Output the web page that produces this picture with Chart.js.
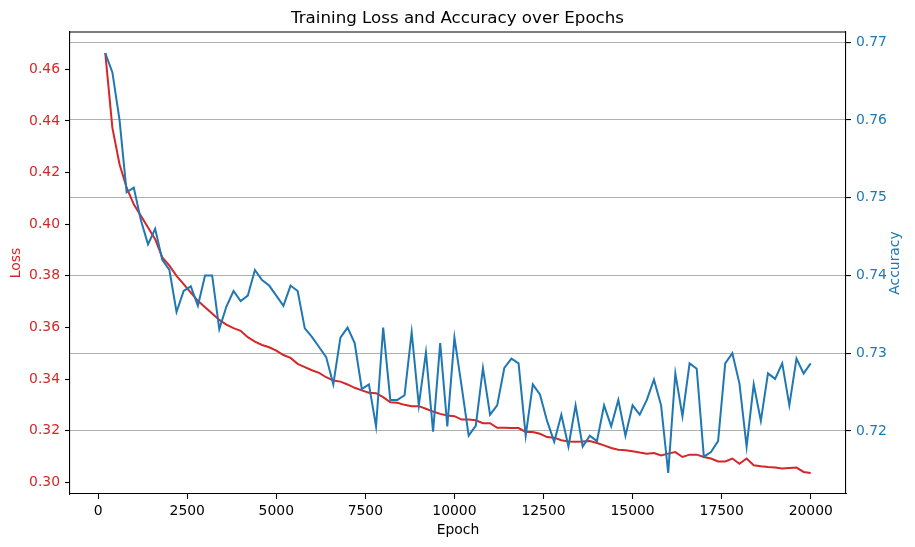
<!DOCTYPE html>
<html>
<head>
<meta charset="utf-8">
<script src="https://cdn.jsdelivr.net/npm/chart.js@4"></script>
<style>
  html, body { margin: 0; padding: 0; background: #fff; }
</style>
</head>
<body>
<canvas id="chart" width="915" height="547"></canvas>
<script>
// epochs on x, loss on the left axis, accuracy on the right axis
const epochs = [
  200, 400, 600, 800, 1000, 1200, 1400, 1600, 1800, 2000,
  2200, 2400, 2600, 2800, 3000, 3200, 3400, 3600, 3800, 4000,
  4200, 4400, 4600, 4800, 5000, 5200, 5400, 5600, 5800, 6000,
  6200, 6400, 6600, 6800, 7000, 7200, 7400, 7600, 7800, 8000,
  8200, 8400, 8600, 8800, 9000, 9200, 9400, 9600, 9800, 10000,
  10200, 10400, 10600, 10800, 11000, 11200, 11400, 11600, 11800, 12000,
  12200, 12400, 12600, 12800, 13000, 13200, 13400, 13600, 13800, 14000,
  14200, 14400, 14600, 14800, 15000, 15200, 15400, 15600, 15800, 16000,
  16200, 16400, 16600, 16800, 17000, 17200, 17400, 17600, 17800, 18000,
  18200, 18400, 18600, 18800, 19000, 19200, 19400, 19600, 19800, 20000
];

const loss = [
  0.4663, 0.4373, 0.4232, 0.4141, 0.4077, 0.4032, 0.3987, 0.3942, 0.3871, 0.3839,
  0.3800, 0.3768, 0.3735, 0.3703, 0.3678, 0.3654, 0.3629, 0.3611, 0.3597, 0.3587,
  0.3562, 0.3545, 0.3532, 0.3523, 0.3510, 0.3493, 0.3482, 0.3459, 0.3446, 0.3434,
  0.3424, 0.3407, 0.3394, 0.3390, 0.3379, 0.3366, 0.3356, 0.3347, 0.3345, 0.3330,
  0.3310, 0.3308, 0.3300, 0.3295, 0.3295, 0.3285, 0.3274, 0.3265, 0.3259, 0.3256,
  0.3243, 0.3243, 0.3240, 0.3229, 0.3229, 0.3211, 0.3211, 0.3210, 0.3210, 0.3195,
  0.3195, 0.3188, 0.3175, 0.3173, 0.3163, 0.3158, 0.3157, 0.3158, 0.3160, 0.3152,
  0.3143, 0.3133, 0.3126, 0.3124, 0.3120, 0.3115, 0.3111, 0.3113, 0.3104, 0.3111,
  0.3117, 0.3098, 0.3107, 0.3107, 0.3098, 0.3092, 0.3081, 0.3081, 0.3092, 0.3072,
  0.3092, 0.3066, 0.3062, 0.3059, 0.3057, 0.3053, 0.3055, 0.3057, 0.3040, 0.3036
];

const accuracy = [
  0.7686, 0.7661, 0.7600, 0.7507, 0.7513, 0.7471, 0.7440, 0.7460, 0.7420, 0.7407,
  0.7353, 0.7380, 0.7386, 0.7361, 0.7400, 0.7400, 0.7331, 0.7360, 0.7380, 0.7367,
  0.7374, 0.7407, 0.7394, 0.7387, 0.7374, 0.7361, 0.7387, 0.7380, 0.7332, 0.7321,
  0.7308, 0.7295, 0.7260, 0.7320, 0.7333, 0.7313, 0.7254, 0.7260, 0.7206, 0.7333,
  0.7240, 0.7240, 0.7246, 0.7327, 0.7233, 0.7301, 0.7199, 0.7313, 0.7206, 0.7320,
  0.7258, 0.7194, 0.7207, 0.7281, 0.7221, 0.7233, 0.7281, 0.7293, 0.7287, 0.7194,
  0.7260, 0.7247, 0.7213, 0.7186, 0.7221, 0.7180, 0.7233, 0.7180, 0.7194, 0.7187,
  0.7233, 0.7206, 0.7240, 0.7194, 0.7233, 0.7221, 0.7240, 0.7266, 0.7233, 0.7146,
  0.7274, 0.7219, 0.7287, 0.7280, 0.7167, 0.7173, 0.7187, 0.7287, 0.7300, 0.7261,
  0.7180, 0.7260, 0.7213, 0.7274, 0.7267, 0.7287, 0.7233, 0.7293, 0.7274, 0.7287
];

const epochTicks = [0, 2500, 5000, 7500, 10000, 12500, 15000, 17500, 20000];
const lossTicks = [0.30, 0.32, 0.34, 0.36, 0.38, 0.40, 0.42, 0.44, 0.46];
const accTicks = [0.72, 0.73, 0.74, 0.75, 0.76, 0.77];

const RED = '#d62728';
const BLUE = '#1f77b4';
const FONT = 'DejaVu Sans';

Chart.defaults.font.family = FONT;
Chart.defaults.font.size = 13.9;
Chart.defaults.color = '#000';

// matplotlib style autoscale: 5% margin on each side
function padded(arr) {
  const lo = Math.min(...arr), hi = Math.max(...arr);
  const m = (hi - lo) * 0.05;
  return [lo - m, hi + m];
}
const [xMin, xMax] = padded(epochs);
const [lMin, lMax] = padded(loss);
const [aMin, aMax] = padded(accuracy);

const toPoints = ys => ys.map((y, i) => ({ x: epochs[i], y: y }));
const fixTicks = list => scale => { scale.ticks = list.map(v => ({ value: v })); };

// top spine + right axis label (matplotlib writes it bottom-to-top)
const framePlugin = {
  id: 'frame',
  afterDraw(chart) {
    const { ctx, chartArea: a } = chart;
    ctx.save();
    ctx.strokeStyle = '#000';
    ctx.lineWidth = 1.1;
    ctx.beginPath();
    ctx.moveTo(a.left, a.top);
    ctx.lineTo(a.right, a.top);
    ctx.stroke();
    ctx.translate(a.right + 49, (a.top + a.bottom) / 2);
    ctx.rotate(-Math.PI / 2);
    ctx.fillStyle = BLUE;
    ctx.font = '13.9px "' + FONT + '"';
    ctx.textAlign = 'center';
    ctx.textBaseline = 'middle';
    ctx.fillText('Accuracy', 0, 0);
    ctx.restore();
  }
};

new Chart(document.getElementById('chart'), {
  type: 'line',
  data: {
    datasets: [
      {
        label: 'Loss',
        data: toPoints(loss),
        yAxisID: 'y',
        borderColor: RED,
        borderWidth: 2,
        pointRadius: 0,
        tension: 0,
        order: 2
      },
      {
        label: 'Accuracy',
        data: toPoints(accuracy),
        yAxisID: 'y1',
        borderColor: BLUE,
        borderWidth: 2,
        pointRadius: 0,
        tension: 0,
        order: 1
      }
    ]
  },
  options: {
    responsive: false,
    animation: false,
    events: [],
    layout: { padding: 0 },
    plugins: {
      legend: { display: false },
      tooltip: { enabled: false },
      title: {
        display: true,
        text: 'Training Loss and Accuracy over Epochs',
        color: '#000',
        font: { size: 16.67, weight: 'normal' },
        padding: { top: 9, bottom: 3 }
      }
    },
    scales: {
      x: {
        type: 'linear',
        min: xMin,
        max: xMax,
        afterBuildTicks: fixTicks(epochTicks),
        afterFit: s => { s.height = 53; },
        grid: { drawOnChartArea: false, tickLength: 5, tickColor: '#000', tickWidth: 1.1 },
        border: { color: '#000', width: 1.1 },
        ticks: { color: '#000', padding: 4, maxRotation: 0, callback: v => String(v) },
        title: { display: true, text: 'Epoch', color: '#000', padding: { top: 0, bottom: 8 } }
      },
      y: {
        position: 'left',
        min: lMin,
        max: lMax,
        afterBuildTicks: fixTicks(lossTicks),
        afterFit: s => { s.width = 70; },
        grid: { drawOnChartArea: false, tickLength: 5, tickColor: '#000', tickWidth: 1.1 },
        border: { color: '#000', width: 1.1 },
        ticks: { color: RED, padding: 5, callback: v => v.toFixed(2) },
        title: { display: true, text: 'Loss', color: RED, padding: { top: 8, bottom: 0 } }
      },
      y1: {
        position: 'right',
        min: aMin,
        max: aMax,
        afterBuildTicks: fixTicks(accTicks),
        afterFit: s => { s.width = 69; },
        grid: { drawOnChartArea: true, color: '#b0b0b0', lineWidth: 1.1, tickLength: 5, tickColor: '#000', tickWidth: 1.1 },
        border: { color: '#000', width: 1.1 },
        ticks: { color: BLUE, padding: 5, callback: v => v.toFixed(2) }
      }
    }
  },
  plugins: [framePlugin]
});
</script>
</body>
</html>
